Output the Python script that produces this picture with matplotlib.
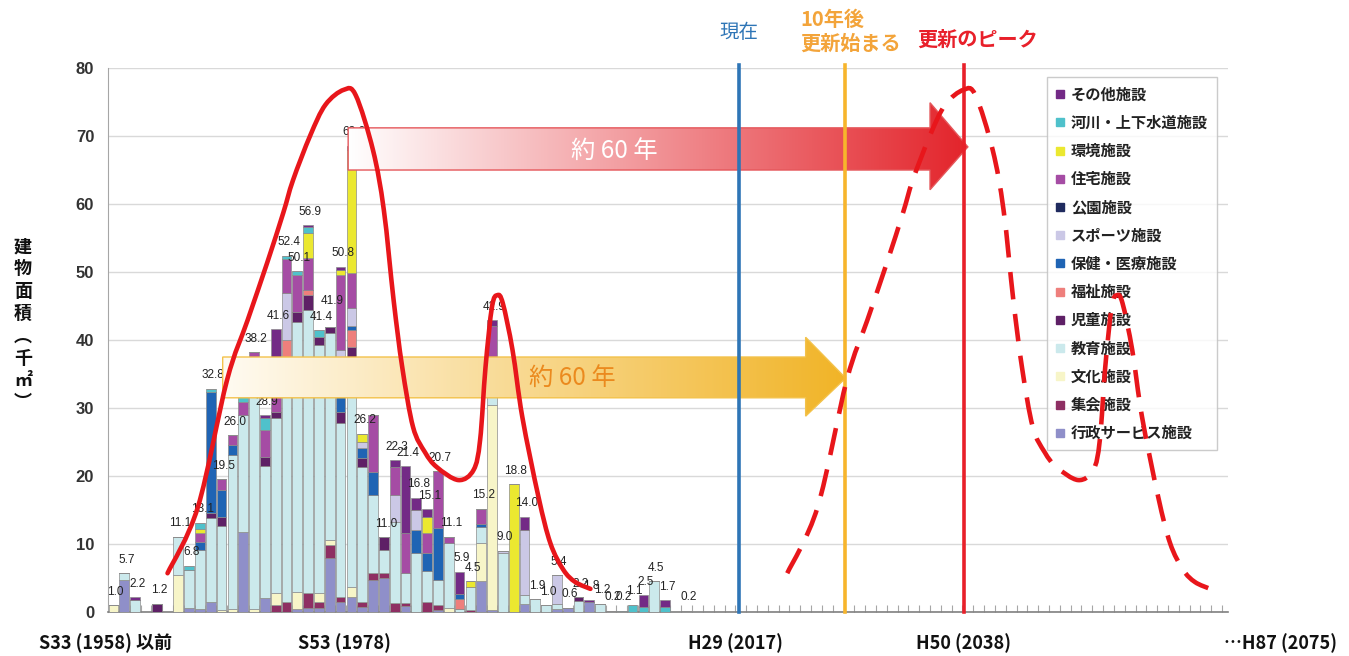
import numpy as np
import matplotlib
matplotlib.use("Agg")
import matplotlib.pyplot as plt
from matplotlib.patches import Polygon, PathPatch
from matplotlib.path import Path
from matplotlib.colors import LinearSegmentedColormap
from matplotlib.lines import Line2D
import matplotlib.transforms as mtransforms

plt.rcParams['font.family'] = ['Noto Sans CJK JP', 'DejaVu Sans']

# ---------------- data ----------------
# categories: construction years, index 0 = S33(1958)以前
years = list(range(1958, 2012))

# series listed bottom -> top of the stack
gyosei = [0, 4.7, 0, 0, 0, 0, 0, 0.6, 0.4, 1.5,
          0, 0, 11.7, 0, 2.0, 0, 0, 0.5, 0.6, 0.6,
          7.9, 1.5, 2.2, 0.8, 4.7, 5.0, 0, 0.9, 0, 0,
          0.3, 0, 0, 0, 4.6, 0.3, 0, 0, 1.2, 0,
          0, 0.4, 0.6, 0, 1.5, 0, 0, 0, 0, 0,
          0, 0, 0, 0]
shukai = [0, 0, 0, 0, 0, 0, 0, 0, 0, 0,
          0, 0, 0, 0, 0, 1.0, 1.5, 0, 2.2, 0.9,
          1.9, 0.7, 0, 0.7, 1.0, 0.7, 1.3, 0.4, 0, 1.5,
          0.7, 0, 0, 0.3, 0, 0, 0, 0, 0, 0,
          0, 0, 0, 0, 0, 0, 0, 0, 0, 0,
          0, 0, 0, 0]
bunka = [1.0, 0, 0, 0, 0, 0, 5.4, 0, 0, 0,
         0.3, 0.4, 0, 0.4, 0, 1.8, 0, 2.4, 0, 1.3,
         0.8, 0, 1.5, 0, 0, 0, 0, 0, 0, 0,
         0, 0.6, 0, 0, 5.5, 30.1, 0, 0, 0, 0,
         0, 0, 0, 0, 0, 0, 0, 0, 0, 0,
         0, 0, 0, 0]
kyoiku = [0, 1.0, 1.8, 0, 0, 0, 5.7, 5.6, 8.7, 12.3,
          12.4, 22.7, 17.3, 36.8, 19.5, 25.7, 35.0, 39.7, 41.6, 36.5,
          30.4, 25.6, 33.8, 19.8, 11.5, 3.4, 11.9, 4.4, 8.7, 4.6,
          3.7, 9.6, 0.5, 3.4, 2.4, 7.1, 8.7, 0, 1.3, 1.9,
          1.0, 0.8, 0, 1.6, 0, 1.2, 0.2, 0, 0, 0,
          4.5, 0, 0, 0.2]
jido = [0, 0, 0, 0, 1.2, 0, 0, 0, 0, 0.7,
        1.2, 0, 0, 0, 1.3, 0.9, 1.0, 1.5, 2.2, 1.1,
        0.9, 1.6, 1.5, 1.3, 0, 1.9, 0, 0, 0, 0,
        0, 0, 0, 0, 0, 0, 0, 0, 0, 0,
        0, 0, 0, 0.6, 0, 0, 0, 0, 0, 0,
        0, 0, 0, 0]
fukushi = [0, 0, 0, 0, 0, 0, 0, 0, 0, 0,
           0, 0, 0, 0, 0, 0, 2.5, 0, 0.8, 0,
           0, 0, 2.4, 0, 0, 0, 0, 0, 0, 0,
           0, 0, 1.4, 0, 0, 0, 0, 0, 0, 0,
           0, 0, 0, 0, 0, 0, 0, 0, 0, 0,
           0, 0, 0, 0]
hoken = [0, 0, 0, 0, 0, 0, 0, 0, 1.2, 17.9,
         4.0, 1.4, 0, 0, 0, 0, 0, 0, 0, 0,
         0, 8.1, 0.6, 1.5, 3.4, 0, 0, 0, 3.4, 2.6,
         7.6, 0, 0.7, 0, 0.5, 0, 0, 0, 0, 0,
         0, 0, 0, 0, 0, 0, 0, 0, 0, 0,
         0, 0, 0, 0]
sports = [0, 0, 0, 0, 0, 0, 0, 0, 0, 0,
          0, 0, 0, 0, 0, 0, 6.9, 0, 0, 0,
          0, 1.0, 2.7, 0.9, 0, 0, 4.0, 0, 2.9, 0,
          0, 0, 0, 0, 0, 0, 0.3, 0, 9.6, 0,
          0, 4.2, 0, 0, 0, 0, 0, 0, 0, 0,
          0, 0, 0, 0]
koen = [0, 0, 0, 0, 0, 0, 0, 0, 0, 0,
        0, 0, 0, 0, 0, 0, 0, 0, 0, 0,
        0, 0, 0, 0, 0, 0, 0, 0, 0, 0,
        0, 0, 0, 0, 0, 0, 0, 0, 0, 0,
        0, 0, 0, 0, 0, 0, 0, 0, 0, 0,
        0, 0, 0, 0]
jutaku = [0, 0, 0, 0, 0, 0, 0, 0, 1.3, 0,
          1.6, 1.5, 1.9, 1.0, 4.0, 3.5, 5.0, 5.5, 4.7, 0,
          0, 11.1, 5.1, 0, 8.4, 0, 4.1, 5.9, 0, 2.9,
          8.4, 0.9, 0, 0, 2.2, 4.5, 0, 0, 0, 0,
          0, 0, 0, 0, 0, 0, 0, 0, 0, 0,
          0, 0, 0, 0]
kankyo = [0, 0, 0, 0, 0, 0, 0, 0, 0.6, 0,
          0, 0, 0, 0, 0, 0, 0, 0, 3.6, 0,
          0, 0.7, 18.2, 1.2, 0, 0, 0, 0, 0, 2.4,
          0, 0, 0, 0.8, 0, 0, 0, 18.8, 0, 0,
          0, 0, 0, 0, 0, 0, 0, 0, 0, 0,
          0, 0, 0, 0]
kasen = [0, 0, 0, 0, 0, 0, 0, 0.6, 0.9, 0.4,
         0, 0, 2.5, 0, 1.7, 0, 0.5, 0.5, 0.9, 1.0,
         0, 0, 0, 0, 0, 0, 0, 0, 0, 0,
         0, 0, 0, 0, 0, 0, 0, 0, 0, 0,
         0, 0, 0, 0, 0, 0, 0, 0.2, 1.1, 0.8,
         0, 0.8, 0, 0]
sonota = [0, 0, 0.4, 0, 0, 0, 0, 0, 0, 0,
          0, 0, 0, 0, 0.4, 8.7, 0, 0, 0.3, 0,
          0, 0.5, 0.6, 0, 0, 0, 1.0, 9.8, 1.8, 1.1,
          0, 0, 3.3, 0, 0, 0.9, 0, 0, 1.9, 0,
          0, 0, 0, 0, 0.3, 0, 0, 0, 0, 1.7,
          0, 0.9, 0, 0]

series_names = ['行政サービス施設', '集会施設', '文化施設', '教育施設', '児童施設',
                '福祉施設', '保健・医療施設', 'スポーツ施設', '公園施設', '住宅施設',
                '環境施設', '河川・上下水道施設', 'その他施設']
series_values = [gyosei, shukai, bunka, kyoiku, jido, fukushi, hoken, sports,
                 koen, jutaku, kankyo, kasen, sonota]
series_colors = ['#8F8FC9', '#8E2F63', '#F7F5C8', '#CBE9EC', '#5E2066',
                 '#EE7F7C', '#1F64B4', '#CBC8E6', '#1F2A5E', '#A54CA4',
                 '#EBE830', '#4FC1CB', '#732A86']

# data labels as printed on the chart (None = hidden under the arrows)
bar_labels = [1.0, 5.7, 2.2, None, 1.2, None, 11.1, 6.8, 13.1, 32.8,
              19.5, 26.0, None, 38.2, 28.9, 41.6, 52.4, 50.1, 56.9, 41.4,
              41.9, 50.8, 68.6, 26.2, None, 11.0, 22.3, 21.4, 16.8, 15.1,
              20.7, 11.1, 5.9, 4.5, 15.2, 42.9, 9.0, 18.8, 14.0, 1.9,
              1.0, 5.4, 0.6, 2.2, 1.8, 1.2, 0.2, 0.2, 1.1, 2.5,
              4.5, 1.7, None, 0.2]

# hand-drawn renewal curve (category index, thousand m2)
curve_x = [5.0, 7.8, 10.5, 12.4, 14.2, 15.7, 16.6, 18.2, 19.6, 21.3, 22.4,
           24.0, 25.0, 25.9, 26.7, 27.7, 28.8, 29.9, 31.9, 33.3, 33.9, 34.4,
           35.0, 35.5, 36.0, 36.9, 37.8, 39.3, 40.4, 41.6, 42.7, 44.1]
curve_y = [5.7, 15.4, 34.1, 42.9, 51.3, 58.7, 63.5, 70.1, 74.6, 76.8, 76.0,
           67.9, 59.1, 45.9, 36.0, 27.2, 23.5, 21.3, 19.4, 20.9, 25.3, 36.0,
           44.9, 46.6, 45.4, 38.5, 28.7, 16.9, 10.1, 6.2, 4.4, 3.4]
curve_shift = 57.3  # future curve = same shape shifted right

# marker lines: 現在, 10年後 更新始まる, 更新のピーク
marker_pos = [57.86, 67.65, 78.65]
marker_colors = ['#2E75B6', '#F7B52C', '#E8202A']

# ---------------- figure ----------------
fig = plt.figure(figsize=(13.49, 6.56), dpi=100)
ax = fig.add_axes([0.0801, 0.0671, 0.8302, 0.8292])

xs = np.arange(len(years))
bottom = np.zeros(len(years))
for name, vals, col in zip(series_names, series_values, series_colors):
    v = np.array(vals, dtype=float)
    ax.bar(xs, v, bottom=bottom, width=0.9, color=col, edgecolor='#8c8c8c',
           linewidth=0.5, zorder=3)
    bottom += v

label_nudge = {20: 1.8}
for i, lab in enumerate(bar_labels):
    if lab is None:
        continue
    ax.text(xs[i] + 0.2, lab + 1.1 + label_nudge.get(i, 0.0), f"{lab:.1f}",
            ha='center', va='bottom', fontsize=8.5, family='Liberation Sans',
            color='#222222', zorder=4)

XMIN, XMAX = -0.5, 103.05
ax.set_xlim(XMIN, XMAX)
ax.set_ylim(0, 80)
ax.set_yticks(np.arange(0, 81, 10))
ax.yaxis.grid(True, color='#d9d9d9', linewidth=1.0, zorder=0)
ax.set_axisbelow(True)
for lab in ax.get_yticklabels():
    lab.set_fontfamily('Liberation Sans')
    lab.set_fontweight('bold')
    lab.set_fontsize(12)
    lab.set_color('#333333')
ax.tick_params(axis='y', length=0, pad=10)
ax.set_xticks(np.arange(0.5, 103, 1.0))
ax.set_xticklabels([])
ax.tick_params(axis='x', direction='in', length=5, color='#a6a6a6', width=0.8)
for s in ['top', 'right']:
    ax.spines[s].set_visible(False)
ax.spines['left'].set_color('#a6a6a6')
ax.spines['bottom'].set_color('#808080')
ax.spines['bottom'].set_linewidth(1.2)

# x labels
trans = mtransforms.blended_transform_factory(ax.transData, ax.transAxes)
xlabels = [(-0.75, 'S33 (1958) 以前'), (21.4, 'S53 (1978)'), (57.5, 'H29 (2017)'),
           (78.6, 'H50 (2038)'), (107.9, '…H87 (2075)')]
for xv, t in xlabels:
    ax.text(xv, -0.057, t, transform=trans, ha='center', va='center',
            fontsize=13, fontweight='bold', color='#111111', clip_on=False)

# y label (vertical writing)
fig.text(0.017, 0.505, '建\n物\n面\n積\n︵\n千\n㎡\n︶', ha='center', va='center',
         fontsize=13, fontweight='bold', linespacing=1.22, color='#111111')

# gradient arrows
def grad_arrow(x0, xh, xt, ylo, yhi, hlo, hhi, ytip, c0, c1, edge, z):
    verts = [(x0, ylo), (xh, ylo), (xh, hlo), (xt, ytip), (xh, hhi), (xh, yhi), (x0, yhi)]
    poly = Polygon(verts, closed=True, facecolor='none', edgecolor=edge,
                   linewidth=1.0, zorder=z + 0.1)
    ax.add_patch(poly)
    cmap = LinearSegmentedColormap.from_list('g', [c0, c1])
    grad = np.linspace(0, 1, 256).reshape(1, -1)
    im = ax.imshow(grad, extent=[x0, xt, hlo, hhi], aspect='auto', cmap=cmap,
                   zorder=z, interpolation='bilinear')
    im.set_clip_path(poly)

grad_arrow(21.7, 75.5, 79.0, 65.0, 71.2, 62.1, 74.9, 68.4,
           '#FFFFFF', '#E3242B', '#E5575B', 5)
grad_arrow(10.1, 64.0, 67.7, 31.5, 37.5, 28.8, 40.4, 34.4,
           '#FFFBF2', '#F1B427', '#F3C24B', 5)
ax.text(46.3, 67.8, '約 60 年', ha='center', va='center', fontsize=17.5,
        color='white', zorder=7)
ax.text(42.4, 34.4, '約 60 年', ha='center', va='center', fontsize=17.5,
        color='#EB8A1E', zorder=7)

# marker lines and captions
for xp, c in zip(marker_pos, marker_colors):
    ax.plot([xp, xp], [0, 80.4], color=c, linewidth=2.6, zorder=6, clip_on=False)
ax.text(marker_pos[0], 85.2, '現在', ha='center', va='center', fontsize=14,
        color='#2E75B6', clip_on=False)
ax.text(63.5, 85.4, '10年後\n更新始まる', ha='left', va='center', fontsize=14.5,
        color='#F3A43A', fontweight='bold', linespacing=1.15, clip_on=False)
ax.text(74.3, 84.3, '更新のピーク', ha='left', va='center', fontsize=14.5,
        color='#E8202A', fontweight='bold', clip_on=False)

# renewal curves (smooth path through the hand-drawn points)
def smooth_path(px, py):
    pts = np.column_stack([px, py]).astype(float)
    verts = [pts[0]]
    codes = [Path.MOVETO]
    n = len(pts)
    for k in range(n - 1):
        p0 = pts[k - 1] if k > 0 else pts[k]
        p1 = pts[k]
        p2 = pts[k + 1]
        p3 = pts[k + 2] if k + 2 < n else pts[k + 1]
        verts += [p1 + (p2 - p0) / 6.0, p2 - (p3 - p1) / 6.0, p2]
        codes += [Path.CURVE4] * 3
    return Path(verts, codes)

ax.add_patch(PathPatch(smooth_path(curve_x, curve_y), facecolor='none',
                       edgecolor='#E8161B', linewidth=3.3, zorder=10,
                       capstyle='round', joinstyle='round'))
ax.add_patch(PathPatch(smooth_path(np.array(curve_x) + curve_shift, curve_y),
                       facecolor='none', edgecolor='#E8161B', linewidth=3.3,
                       linestyle=(0, (6.0, 3.2)), zorder=10, clip_on=False))

ax.set_xlim(XMIN, XMAX)
ax.set_ylim(0, 80)

# legend
handles = [Line2D([], [], marker='s', linestyle='none', markersize=6,
                  markerfacecolor=c, markeredgecolor=c)
           for c in series_colors[::-1]]
leg = ax.legend(handles, series_names[::-1], loc='upper left',
                bbox_to_anchor=(0.838, 0.983), borderaxespad=0.0,
                frameon=True, fancybox=False,
                edgecolor='#bfbfbf', handlelength=0.6,
                handletextpad=0.4, labelspacing=0.8, borderpad=0.6,
                prop={'weight': 'bold', 'size': 11})
leg.set_zorder(8)
for t in leg.get_texts():
    t.set_color('#222222')

fig.savefig('out.png', dpi=100)
